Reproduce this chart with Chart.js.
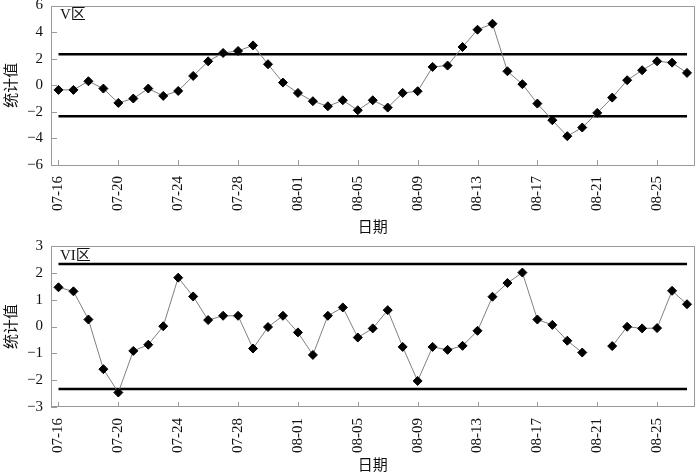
<!DOCTYPE html>
<html><head><meta charset="utf-8">
<script src="https://cdn.jsdelivr.net/npm/chart.js@4/dist/chart.umd.min.js"></script>
<style>
html,body{margin:0;padding:0;background:#fff;width:700px;height:476px;overflow:hidden}
.box{position:absolute;left:0;width:700px;height:238px}
</style></head><body>
<div class="box" style="top:0"><canvas id="c1" width="700" height="238"></canvas></div>
<div class="box" style="top:238px"><canvas id="c2" width="700" height="238"></canvas></div>
<script>
const dates = ["07-16","07-17","07-18","07-19","07-20","07-21","07-22","07-23","07-24","07-25","07-26","07-27","07-28","07-29","07-30","07-31",
  "08-01","08-02","08-03","08-04","08-05","08-06","08-07","08-08","08-09","08-10","08-11","08-12","08-13","08-14","08-15","08-16","08-17","08-18","08-19","08-20","08-21","08-22","08-23","08-24","08-25","08-26","08-27"];
const tickLabels = ["07-16","07-20","07-24","07-28","08-01","08-05","08-09","08-13","08-17","08-21","08-25"];
const zoneV = [-0.35,-0.35,0.3,-0.25,-1.33,-1.0,-0.25,-0.8,-0.43,0.7,1.8,2.43,2.58,3.0,1.58,0.2,
  -0.58,-1.2,-1.58,-1.13,-1.88,-1.13,-1.68,-0.58,-0.45,1.38,1.48,2.88,4.18,4.63,1.05,0.08,-1.38,-2.63,-3.83,-3.18,-2.08,-0.93,0.38,1.13,1.8,1.7,0.93];
const zoneVI = [1.46,1.31,0.26,-1.59,-2.46,-0.91,-0.68,0.01,1.82,1.12,0.24,0.4,0.4,-0.82,-0.02,0.4,
  -0.22,-1.06,0.4,0.71,-0.41,-0.07,0.61,-0.76,-2.03,-0.76,-0.87,-0.72,-0.16,1.11,1.62,2.01,0.26,0.06,-0.53,-0.97,null,-0.73,-0.01,-0.07,-0.06,1.33,0.83];
const controlLimit = 2.33;
const yTicksV = [-6,-4,-2,0,2,4,6];
const yTicksVI = [-3,-2,-1,0,1,2,3];
const panelLabels = ["V区","VI区"];

const SERIF = '"Liberation Serif","Times New Roman","Noto Sans CJK SC",serif';
const TXT = '#111';

function decoPlugin(label){
  return {
    id:'deco',
    afterDraw(chart){
      const {ctx, chartArea:a, scales:{x,y}} = chart;
      ctx.save();
      ctx.strokeStyle = '#9a9a9a';
      ctx.lineWidth = 1;
      ctx.strokeRect(Math.round(a.left)+0.5, Math.round(a.top)+0.5, Math.round(a.right-a.left)-1, Math.round(a.bottom-a.top)-1);
      ctx.beginPath();
      y.ticks.forEach(t=>{
        const py = Math.round(y.getPixelForValue(t.value))+0.5;
        ctx.moveTo(a.left, py); ctx.lineTo(a.left+6, py);
      });
      dates.forEach((d,i)=>{
        if(tickLabels.includes(d)){
          const px = Math.round(x.getPixelForValue(i))+0.5;
          ctx.moveTo(px, a.bottom); ctx.lineTo(px, a.bottom-5);
        }
      });
      ctx.stroke();
      ctx.fillStyle = TXT;
      ctx.font = '15px ' + SERIF;
      ctx.textAlign = 'left';
      ctx.textBaseline = 'middle';
      ctx.fillText(label, a.left + 9, a.top + 10);
      ctx.restore();
    }
  };
}

function buildConfig(series, yTicks, label, topPad, xAxisH){
  return {
    type:'line',
    data:{labels:dates, datasets:[
      {data:series, borderColor:'#808080', borderWidth:1, tension:0, spanGaps:false,
       pointStyle:'rectRot', pointRadius:4.5, pointBackgroundColor:'#000', pointBorderColor:'#000', pointBorderWidth:1, order:0},
      {data:dates.map(()=>controlLimit), borderColor:'#000', borderWidth:2.5, pointRadius:0, order:1},
      {data:dates.map(()=>-controlLimit), borderColor:'#000', borderWidth:2.5, pointRadius:0, order:1}
    ]},
    options:{
      responsive:false, animation:false, devicePixelRatio:1,
      layout:{padding:{top:topPad,right:2,bottom:0,left:0}},
      plugins:{legend:{display:false}, tooltip:{enabled:false}},
      scales:{
        x:{type:'category', offset:true,
           grid:{display:false, drawTicks:false}, border:{display:false},
           ticks:{autoSkip:false, minRotation:90, maxRotation:90, padding:11, color:TXT,
                  font:{family:SERIF, size:15},
                  callback:(v,i)=> tickLabels.includes(dates[i]) ? dates[i] : ''},
           title:{display:true, text:'日期', color:TXT, font:{family:SERIF, size:15}, padding:{top:0,bottom:1}},
           afterFit:s=>{ s.height = xAxisH; s.paddingLeft = 0; s.paddingRight = 0; }
        },
        y:{min:yTicks[0], max:yTicks[yTicks.length-1],
           afterBuildTicks:s=>{ s.ticks = yTicks.map(v=>({value:v})); },
           grid:{display:false, drawTicks:false}, border:{display:false},
           ticks:{padding:8, color:TXT, font:{family:SERIF, size:15},
                  callback:v=> v<0 ? '\u2212'+Math.abs(v) : String(v)},
           title:{display:true, text:'统计值', color:TXT, font:{family:SERIF, size:15}, padding:{top:3,bottom:0}},
           afterFit:s=>{ s.width = 51; s.paddingTop = 0; s.paddingBottom = 0; }
        }
      }
    },
    plugins:[decoPlugin(label)]
  };
}

new Chart(document.getElementById('c1'), buildConfig(zoneV, yTicksV, panelLabels[0], 5, 73));
new Chart(document.getElementById('c2'), buildConfig(zoneVI, yTicksVI, panelLabels[1], 8, 69));
</script>
</body></html>
